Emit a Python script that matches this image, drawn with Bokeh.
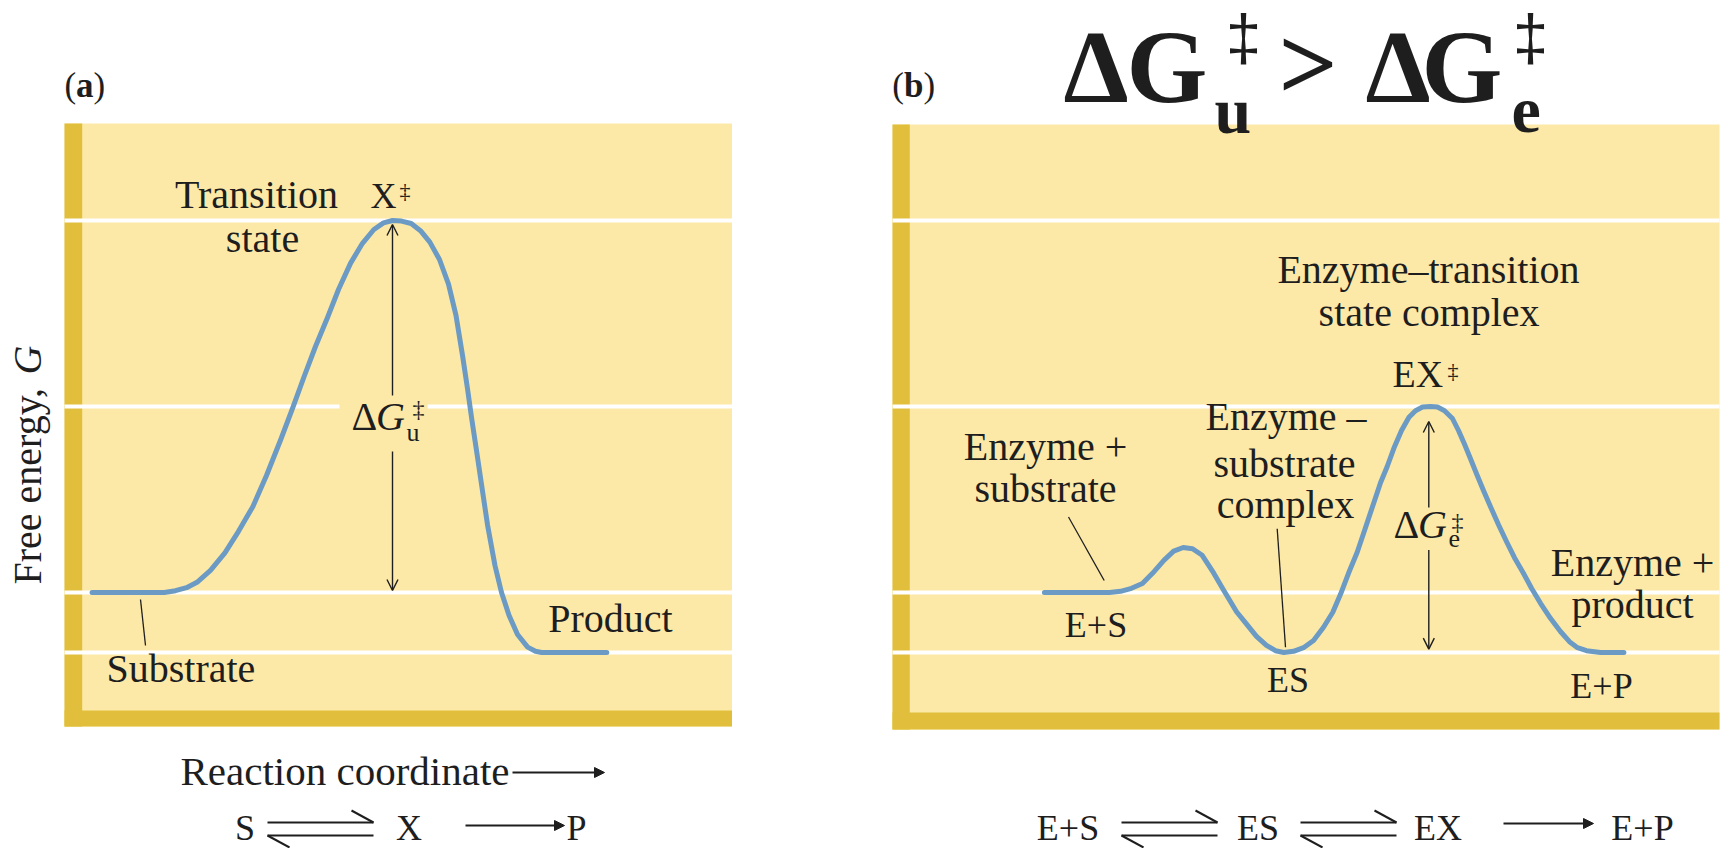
import numpy as np
from bokeh.plotting import figure
from bokeh.models import Range1d, Arrow, OpenHead, NormalHead
from bokeh.core.properties import value
from bokeh.embed import file_html
from bokeh.resources import INLINE

# ---------------- data ----------------
# free-energy levels (arbitrary units): product / ES, substrate / E+S, EX‡, X‡
energy_levels = [0.0, 1.0, 4.1, 7.2]

# (a) uncatalysed reaction: reaction coordinate (0-100 across the panel) vs G
rc_a = [4.13, 14.95, 16.63, 18.28, 19.85, 21.87, 24.03, 26.07, 28.21, 30.26, 32.40,
        34.16, 35.90, 37.60, 39.39, 41.05, 42.86, 44.64, 46.35, 47.79, 49.14, 50.49,
        51.94, 53.33, 54.73, 56.18, 57.53, 58.65, 59.63, 60.37, 61.00, 61.72, 62.41,
        63.37, 64.49, 65.47, 66.59, 67.87, 69.38, 70.56, 71.48, 81.24]
G_a = [1.0, 1.0, 1.03, 1.08, 1.17, 1.37, 1.66, 2.02, 2.43, 2.95, 3.55,
       4.07, 4.60, 5.10, 5.58, 6.05, 6.49, 6.82, 7.05, 7.16, 7.20, 7.19,
       7.15, 7.03, 6.84, 6.55, 6.14, 5.62, 4.95, 4.40, 3.90, 3.37, 2.85,
       2.13, 1.45, 1.00, 0.62, 0.30, 0.09, 0.02, 0.0, 0.0]

# (b) enzyme-catalysed reaction
rc_b = [18.37, 26.24, 27.57, 28.90, 30.22, 31.44, 32.84, 34.00, 35.15, 36.28, 37.45,
        38.81, 40.08, 41.60, 42.89, 44.01, 45.22, 46.31, 47.32, 48.49, 49.70, 50.91,
        52.12, 53.24, 54.17, 55.14, 56.19, 57.19, 58.16, 59.01, 59.82, 60.70, 61.55,
        62.45, 63.24, 64.09, 65.05, 65.90, 66.75, 67.71, 68.44, 69.17, 69.89, 70.62,
        71.46, 72.31, 73.28, 74.24, 75.21, 76.26, 77.27, 78.36, 79.56, 80.77, 81.86,
        82.83, 83.92, 85.61, 88.44]
G_b = [1.0, 1.0, 1.02, 1.07, 1.15, 1.32, 1.54, 1.69, 1.75, 1.73, 1.62,
       1.33, 1.03, 0.68, 0.46, 0.27, 0.12, 0.03, 0.0, 0.02, 0.08, 0.20,
       0.42, 0.67, 0.97, 1.32, 1.67, 2.08, 2.48, 2.83, 3.10, 3.43, 3.70,
       3.92, 4.03, 4.09, 4.10, 4.09, 4.03, 3.90, 3.70, 3.47, 3.23, 2.98,
       2.70, 2.43, 2.13, 1.85, 1.58, 1.33, 1.07, 0.82, 0.57, 0.35, 0.18,
       0.08, 0.03, 0.0, 0.0]

labels_a = ["Transition", "state", "Product", "Substrate"]
labels_b = ["Enzyme\u2013transition", "state complex", "Enzyme +", "substrate",
            "Enzyme \u2013", "substrate", "complex", "Enzyme +", "product"]
species_b = ["E+S", "ES", "EX", "E+P"]

# ---------------- styling / geometry ----------------
YELLOW = "#FCE9A8"
GOLD = "#E1BF3D"
BLUE = "#6B9AC4"
INK = "#1E1E1E"
SERIF = "Liberation Serif"
SANS = "Liberation Sans"
BASE_FIX = 0.35   # renderer draws the alphabetic baseline ~0.35 em low; compensate

W, H = 1720, 848
G0_PX, PX_PER_G = 652.0, 60.0
A = dict(left=64.0, right=731.5, top=123.0, bottom=726.0, bar=17.7, bbar=16.0)
B = dict(left=892.0, right=1719.0, top=124.0, bottom=729.0, bar=17.3, bbar=17.0)

p = figure(width=W, height=H, x_range=Range1d(0, W), y_range=Range1d(H, 0),
           min_border=0, toolbar_location=None, output_backend="svg",
           x_axis_location=None, y_axis_location=None,
           background_fill_color="white", border_fill_color="white",
           outline_line_color=None)
p.xgrid.grid_line_color = None
p.ygrid.grid_line_color = None


def rc_range(box):
    s = (box["right"] - box["left"]) / 100.0
    return Range1d((0 - box["left"]) / s, (W - box["left"]) / s)


p.extra_x_ranges = {"rca": rc_range(A), "rcb": rc_range(B)}
p.extra_y_ranges = {"G": Range1d((G0_PX - H) / PX_PER_G, G0_PX / PX_PER_G)}

# ---------------- panels ----------------
for box in (A, B):
    p.quad(left=[box["left"]], right=[box["right"]], top=[box["top"]], bottom=[box["bottom"]],
           fill_color=YELLOW, line_color=None)
    p.quad(left=[box["left"]], right=[box["left"] + box["bar"]], top=[box["top"]],
           bottom=[box["bottom"]], fill_color=GOLD, line_color=None)
    p.quad(left=[box["left"]], right=[box["right"]], top=[box["bottom"] - box["bbar"]],
           bottom=[box["bottom"]], fill_color=GOLD, line_color=None)

# white energy-level lines
gap_a = (41.2, 54.4)  # gap behind the ΔG‡u label in panel (a)
x0a, x1a, ya = [], [], []
for g in energy_levels:
    if g == energy_levels[2]:
        x0a += [0, gap_a[1]]; x1a += [gap_a[0], 100]; ya += [g, g]
    else:
        x0a.append(0); x1a.append(100); ya.append(g)
p.segment(x0=x0a, y0=ya, x1=x1a, y1=ya, x_range_name="rca", y_range_name="G",
          line_color="white", line_width=4)
p.segment(x0=[0] * len(energy_levels), y0=energy_levels, x1=[100] * len(energy_levels),
          y1=energy_levels, x_range_name="rcb", y_range_name="G",
          line_color="white", line_width=4)

# curves
p.line(rc_a, G_a, x_range_name="rca", y_range_name="G", line_color=BLUE, line_width=5,
       line_join="round", line_cap="round")
p.line(rc_b, G_b, x_range_name="rcb", y_range_name="G", line_color=BLUE, line_width=5,
       line_join="round", line_cap="round")

# leader lines
p.segment(x0=[140, 1068, 1276.7], y0=[599, 516.5, 528.3], x1=[145, 1103.7, 1285],
          y1=[645, 580, 646.7], line_color=INK, line_width=1.3)

# ΔG arrows (two halves around the label)
for (xa, y_from, y_to) in [(392, 395, 224), (392, 451, 590),
                            (1428.3, 507, 421), (1428.3, 549.5, 648.6)]:
    p.add_layout(Arrow(end=OpenHead(size=11, line_width=1.4, line_color=INK), start=None,
                       x_start=xa, y_start=y_from, x_end=xa, y_end=y_to,
                       line_width=1.4, line_color=INK))

# filled reaction arrows
for (xs, xe, yy) in [(512, 605, 772), (465, 565, 825), (1503, 1594, 823)]:
    p.add_layout(Arrow(end=NormalHead(size=10, fill_color=INK, line_color=INK), start=None,
                       x_start=xs, y_start=yy, x_end=xe - 1, y_end=yy,
                       line_width=2, line_color=INK))

# equilibrium harpoons
hx0, hy0, hx1, hy1 = [], [], [], []
for (x1, x2) in [(267, 373), (1121, 1217), (1300, 1396)]:
    yu, yl = 822, 835
    hx0 += [x1, x2, x1, x1]; hy0 += [yu, yu, yl, yl]
    hx1 += [x2, x2 - 22, x2, x1 + 22]; hy1 += [yu, yu - 12, yl, yl + 12]
p.segment(x0=hx0, y0=hy0, x1=hx1, y1=hy1, line_color=INK, line_width=2)


def txt(x, y, s, size, style="normal", align="left", rotated=False, font=SERIF, color=INK):
    if rotated:
        x, angle = x - BASE_FIX * size, np.pi / 2
    else:
        y, angle = y - BASE_FIX * size, 0.0
    p.text(x=[x], y=[y], text=[s], text_font=value(font), text_font_size=value(f"{size}px"),
           text_font_style=value(style), text_align=value(align),
           text_baseline=value("alphabetic"), angle=angle, text_color=color)


# ---- panel (a) texts ----
txt(64, 97, "(", 35); txt(75.5, 97, "a", 35, "bold"); txt(93, 97, ")", 35)
txt(256, 208, labels_a[0], 40, align="center")
txt(262, 252, labels_a[1], 40, align="center")
txt(370, 208, "X", 36); txt(399, 198, "\u2021", 22)
txt(351, 430, "\u0394", 40); txt(375.5, 430, "G", 40, "italic")
txt(406, 441, "u", 26); txt(412, 417, "\u2021", 24)
txt(610, 632, labels_a[2], 40, align="center")
txt(106, 682, labels_a[3], 40)
txt(41, 584, "Free energy,", 40, rotated=True)
txt(41, 374, "G", 40, "italic", rotated=True)
txt(180, 785, "Reaction coordinate", 41)
txt(244.5, 840, "S", 36, align="center")
txt(408.5, 840, "X", 36, align="center")
txt(576, 840, "P", 36, align="center")

# ---- panel (b) texts ----
txt(891.7, 97, "(", 35); txt(903.4, 97, "b", 35, "bold"); txt(922.9, 97, ")", 35)
# big heading  ΔG‡u > ΔG‡e
txt(1063, 102, "\u0394", 104, "bold"); txt(1126, 102, "G", 104, "bold")
txt(1214, 133, "u", 66, "bold"); txt(1243, 60, "\u2021", 64, align="center", font=SANS)
txt(1278, 99, ">", 104, "bold")
txt(1365, 102, "\u0394", 104, "bold"); txt(1421, 102, "G", 104, "bold")
txt(1511, 133, "e", 66, "bold"); txt(1530, 60, "\u2021", 64, align="center", font=SANS)

txt(1428, 283, labels_b[0], 40, align="center")
txt(1428.6, 325.5, labels_b[1], 40, align="center")
txt(1392, 387, "EX", 38); txt(1447, 378, "\u2021", 22)
txt(1045, 460, labels_b[2], 40, align="center")
txt(1045, 502, labels_b[3], 40, align="center")
txt(1095.5, 637, species_b[0], 36, align="center")
txt(1285.5, 430, labels_b[4], 40, align="center")
txt(1284, 477, labels_b[5], 40, align="center")
txt(1285, 518, labels_b[6], 40, align="center")
txt(1287.5, 692, species_b[1], 36, align="center")
txt(1393, 538, "\u0394", 40); txt(1417.5, 538, "G", 40, "italic")
txt(1448, 547, "e", 26); txt(1451, 530, "\u2021", 24)
txt(1632, 575.5, labels_b[7], 40, align="center")
txt(1632, 618, labels_b[8], 40, align="center")
txt(1601, 698, species_b[3], 36, align="center")
# bottom scheme
txt(1067.5, 840, species_b[0], 36, align="center")
txt(1257.5, 840, species_b[1], 36, align="center")
txt(1437.5, 840, species_b[2], 36, align="center")
txt(1642, 840, species_b[3], 36, align="center")

open("out.html", "w").write(file_html(p, INLINE))
